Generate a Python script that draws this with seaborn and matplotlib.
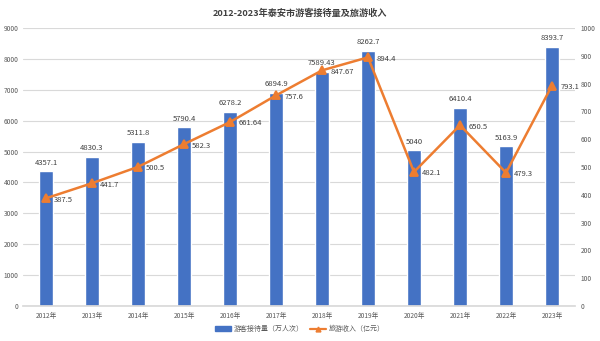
import matplotlib
matplotlib.use("Agg")
import matplotlib.pyplot as plt
import seaborn as sns
import pandas as pd
from matplotlib.patches import Patch
from matplotlib.lines import Line2D

years = ["2012年", "2013年", "2014年", "2015年", "2016年", "2017年",
         "2018年", "2019年", "2020年", "2021年", "2022年", "2023年"]
visitors = [4357.1, 4830.3, 5311.8, 5790.4, 6278.2, 6894.9,
            7589.43, 8262.7, 5040, 6410.4, 5163.9, 8393.7]
visitor_labels = ["4357.1", "4830.3", "5311.8", "5790.4", "6278.2", "6894.9",
                  "7589.43", "8262.7", "5040", "6410.4", "5163.9", "8393.7"]
revenue = [387.5, 441.7, 500.5, 582.3, 661.64, 757.6,
           847.67, 894.4, 482.1, 650.5, 479.3, 793.1]
revenue_labels = ["387.5", "441.7", "500.5", "582.3", "661.64", "757.6",
                  "847.67", "894.4", "482.1", "650.5", "479.3", "793.1"]

df = pd.DataFrame({"year": years, "visitors": visitors, "revenue": revenue})

sns.set_theme(style="white")
plt.rcParams["font.family"] = ["Noto Sans CJK SC", "DejaVu Sans"]
plt.rcParams["axes.unicode_minus"] = False

BAR = "#4472C4"
LINE = "#ED7D31"
TXT = "#595959"
LBL = "#404040"

fig = plt.figure(figsize=(6.0, 3.41), dpi=100)
ax = fig.add_axes([23 / 600, 1 - 306 / 341, 552 / 600, 278 / 341])

sns.barplot(data=df, x="year", y="visitors", color=BAR, width=0.3,
            saturation=1, ax=ax, zorder=2)
ax.set_ylim(0, 9000)
ax.set_yticks(range(0, 9001, 1000))
ax.set_xlim(-0.5, len(years) - 0.5)
ax.grid(axis="y", color="#D9D9D9", linewidth=0.8, zorder=0)
ax.set_axisbelow(True)
ax.set_xlabel("")
ax.set_ylabel("")
for s in ["top", "right", "left"]:
    ax.spines[s].set_visible(False)
ax.spines["bottom"].set_color("#D9D9D9")
ax.tick_params(axis="x", length=0, labelsize=4.8, colors=TXT, pad=4)
ax.tick_params(axis="y", length=0, labelsize=4.8, colors=TXT, pad=3)

for i, (v, t) in enumerate(zip(visitors, visitor_labels)):
    ax.text(i, v + 150, t, ha="center", va="bottom", fontsize=5.5, color=LBL)

ax2 = ax.twinx()
sns.pointplot(data=df, x="year", y="revenue", color=LINE, markers="^",
              markersize=6, linewidth=1.8, ax=ax2)
ax2.set_ylim(0, 1000)
ax2.set_yticks(range(0, 1001, 100))
ax2.set_xlim(-0.5, len(years) - 0.5)
ax2.set_ylabel("")
ax2.set_xlabel("")
for s in ["top", "right", "left", "bottom"]:
    ax2.spines[s].set_visible(False)
ax2.tick_params(axis="y", length=0, labelsize=4.8, colors=TXT, pad=4)

for i, (v, t) in enumerate(zip(revenue, revenue_labels)):
    ax2.text(i + 0.18, v - 5, t, ha="left", va="center", fontsize=5.5, color=LBL)

fig.text(0.5, 1 - 13 / 341, "2012-2023年泰安市游客接待量及旅游收入",
         ha="center", va="center", fontsize=6.6, fontweight="bold", color="#404040")

handles = [Patch(color=BAR),
           Line2D([0], [0], color=LINE, marker="^", markersize=3.5, linewidth=1.6)]
fig.legend(handles, ["游客接待量（万人次）", "旅游收入（亿元）"],
           loc="center", bbox_to_anchor=(0.5, 1 - 329 / 341), ncol=2,
           frameon=False, fontsize=5, labelcolor=TXT,
           handlelength=2.2, handleheight=0.6, columnspacing=1.0, handletextpad=0.4)

fig.savefig("out.png", dpi=100, facecolor="white")
